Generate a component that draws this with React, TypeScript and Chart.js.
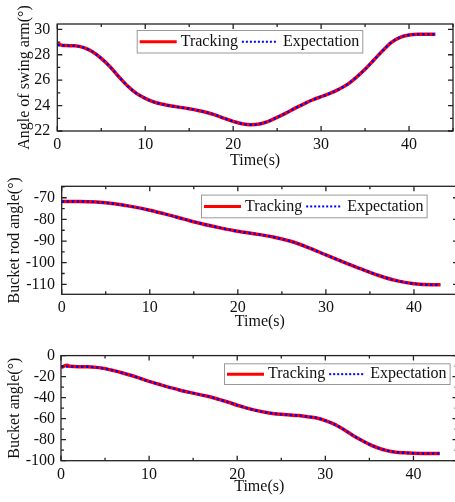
import React, { useEffect, useRef } from 'react';
import { Chart, registerables } from 'chart.js';

Chart.register(...registerables);

const FONT = "'Liberation Serif', 'Times New Roman', serif";

// ---------- Chart 1: swing arm ----------
const swingTime = [0, 0.5, 1, 2, 3, 4, 5, 6, 7, 8, 9, 10, 11, 12, 13, 14, 15, 16, 17, 18, 19, 20, 21, 22, 23, 24, 25, 26, 27, 28, 29, 30, 31, 32, 33, 34, 35, 36, 37, 38, 39, 40, 41, 42, 43];
const swingTracking = [28.9, 28.75, 28.72, 28.7, 28.56, 28.24, 27.72, 27.06, 26.27, 25.54, 24.96, 24.57, 24.28, 24.1, 23.96, 23.86, 23.75, 23.62, 23.46, 23.25, 22.99, 22.76, 22.57, 22.49, 22.55, 22.76, 23.07, 23.41, 23.78, 24.12, 24.44, 24.7, 24.96, 25.28, 25.67, 26.22, 26.85, 27.59, 28.32, 28.98, 29.37, 29.55, 29.61, 29.61, 29.61];
const swingExpectation = [28.75, 28.75, 28.72, 28.7, 28.56, 28.24, 27.72, 27.06, 26.27, 25.54, 24.96, 24.57, 24.28, 24.1, 23.96, 23.86, 23.75, 23.62, 23.46, 23.25, 22.99, 22.76, 22.57, 22.49, 22.55, 22.76, 23.07, 23.41, 23.78, 24.12, 24.44, 24.7, 24.96, 25.28, 25.67, 26.22, 26.85, 27.59, 28.32, 28.98, 29.37, 29.55, 29.61, 29.61, 29.61];
const swingYTicks = [22, 24, 26, 28, 30];
const swingYMinor = [23, 25, 27, 29];

// ---------- Chart 2: bucket rod ----------
const rodTime = [0, 2, 4, 6, 8, 10, 12, 14, 16, 18, 20, 22, 24, 26, 28, 30, 32, 34, 36, 38, 40, 42, 43];
const rodTracking = [-71.7, -71.7, -72, -72.8, -74.1, -75.8, -77.8, -80, -82.1, -83.9, -85.5, -86.7, -88.1, -90.1, -93, -96.4, -99.7, -102.9, -105.9, -108.3, -109.7, -110.2, -110.2];
const rodExpectation = [-71.7, -71.7, -72, -72.8, -74.1, -75.8, -77.8, -80, -82.1, -83.9, -85.5, -86.7, -88.1, -90.1, -93, -96.4, -99.7, -102.9, -105.9, -108.3, -109.7, -110.2, -110.2];
const rodYTicks = [-110, -100, -90, -80, -70];
const rodYMinor = [-105, -95, -85, -75, -65];

// ---------- Chart 3: bucket ----------
const bucketTime = [0, 0.7, 1, 2, 3, 4, 5, 6, 7, 8, 9, 10, 11, 12, 13, 14, 15, 16, 17, 18, 19, 20, 21, 22, 23, 24, 25, 26, 27, 28, 29, 30, 31, 32, 33, 34, 35, 36, 37, 38, 39, 40, 41, 42, 43];
const bucketTracking = [-11.2, -9.3, -10.2, -10.6, -10.6, -11.2, -12.4, -14.3, -16.5, -18.9, -21.7, -24.5, -27, -29.5, -31.7, -33.9, -35.7, -37.6, -39.4, -41.9, -44.4, -47.2, -49.7, -51.9, -53.7, -55, -55.9, -56.5, -57.1, -58.1, -59.3, -61.8, -65.2, -69.9, -75.2, -80.1, -84.5, -87.9, -90.4, -91.9, -92.5, -92.9, -93.1, -93.2, -93.2];
const bucketExpectation = [-10.5, -10.3, -10.3, -10.6, -10.6, -11.2, -12.4, -14.3, -16.5, -18.9, -21.7, -24.5, -27, -29.5, -31.7, -33.9, -35.7, -37.6, -39.4, -41.9, -44.4, -47.2, -49.7, -51.9, -53.7, -55, -55.9, -56.5, -57.1, -58.1, -59.3, -61.8, -65.2, -69.9, -75.2, -80.1, -84.5, -87.9, -90.4, -91.9, -92.5, -92.9, -93.1, -93.2, -93.2];
const bucketYTicks = [-100, -80, -60, -40, -20, 0];
const bucketYMinor = [-90, -70, -50, -30, -10];

// shared x axis
const xTicks = [0, 10, 20, 30, 40];
const xMinor = [5, 15, 25, 35, 45];
const seriesLabels = ['Tracking', 'Expectation'];

const frameTicksPlugin = {
  id: 'frameTicks',
  afterDraw(chart: any, _args: any, opts: any) {
    const { ctx, chartArea } = chart;
    const { left, right, top, bottom } = chartArea;
    const xs = chart.scales.x;
    const ys = chart.scales.y;
    ctx.save();
    ctx.strokeStyle = '#222';
    ctx.lineWidth = 1.3;
    ctx.beginPath();
    const seg = (x1: number, y1: number, x2: number, y2: number) => {
      ctx.moveTo(x1, y1);
      ctx.lineTo(x2, y2);
    };
    const drawX = (v: number, len: number) => {
      const p = xs.getPixelForValue(v);
      seg(p, bottom, p, bottom - len);
      seg(p, top, p, top + len);
    };
    const drawY = (v: number, len: number) => {
      const p = ys.getPixelForValue(v);
      seg(left, p, left + len, p);
      seg(right, p, right - len, p);
    };
    (opts.xMajor || []).forEach((v: number) => drawX(v, 5));
    (opts.xMinor || []).forEach((v: number) => drawX(v, 3));
    (opts.yMajor || []).forEach((v: number) => drawY(v, 5));
    (opts.yMinor || []).forEach((v: number) => drawY(v, 3));
    ctx.stroke();
    ctx.strokeRect(left, top, right - left, bottom - top);
    ctx.restore();
  },
};

const boxLegendPlugin = {
  id: 'boxLegend',
  afterDraw(chart: any, _args: any, opts: any) {
    const { ctx, chartArea } = chart;
    const ds = chart.data.datasets;
    ctx.save();
    ctx.font = `16px ${FONT}`;
    const w0 = ctx.measureText(ds[0].label).width;
    const w1 = ctx.measureText(ds[1].label).width;
    const boxW = 3 + 37 + 4 + w0 + 4 + 35 + 6 + w1 + 3;
    const boxH = opts.height;
    const bx = chartArea.left + opts.dx;
    const by = chartArea.top + opts.dy;
    ctx.fillStyle = '#fff';
    ctx.fillRect(bx, by, boxW, boxH);
    ctx.strokeStyle = '#999';
    ctx.lineWidth = 1;
    ctx.strokeRect(bx + 0.5, by + 0.5, boxW, boxH);
    const cy = by + boxH / 2 + 0.5;
    let x = bx + 3;
    ctx.strokeStyle = ds[0].borderColor;
    ctx.lineWidth = 3;
    ctx.beginPath();
    ctx.moveTo(x, cy);
    ctx.lineTo(x + 37, cy);
    ctx.stroke();
    x += 37 + 4;
    ctx.fillStyle = '#111';
    ctx.textBaseline = 'middle';
    ctx.textAlign = 'left';
    ctx.fillText(ds[0].label, x, cy);
    x += w0 + 4;
    ctx.strokeStyle = ds[1].borderColor;
    ctx.lineWidth = 2;
    ctx.setLineDash([2, 2]);
    ctx.beginPath();
    ctx.moveTo(x, cy);
    ctx.lineTo(x + 35, cy);
    ctx.stroke();
    ctx.setLineDash([]);
    x += 35 + 6;
    ctx.fillText(ds[1].label, x, cy);
    ctx.restore();
  },
};

type Spec = {
  time: number[];
  tracking: number[];
  expectation: number[];
  yTitle: string;
  yMin: number;
  yMax: number;
  yTicks: number[];
  yMinor: number[];
  top: number;
  height: number;
  plotTop: number;
  plotLeft: number;
  plotRight: number;
  plotBottom: number;
  yTitlePad: number;
  yTickPad: number;
  xTickPad: number;
  xTitlePad: number;
  legendDx: number;
  legendDy: number;
  legendH: number;
};

const CANVAS_W = 462;

function makeConfig(s: Spec): any {
  const toPts = (vals: number[]) => s.time.map((t, i) => ({ x: t, y: vals[i] }));
  const tickFont = { family: FONT, size: 16 };
  return {
    type: 'line',
    data: {
      datasets: [
        {
          label: seriesLabels[0],
          data: toPts(s.tracking),
          borderColor: '#ff0000',
          borderWidth: 3.5,
          pointRadius: 0,
          cubicInterpolationMode: 'monotone',
          fill: false,
          order: 2,
        },
        {
          label: seriesLabels[1],
          data: toPts(s.expectation),
          borderColor: '#0000ff',
          borderWidth: 2.4,
          borderDash: [2.5, 2.5],
          pointRadius: 0,
          cubicInterpolationMode: 'monotone',
          fill: false,
          order: 1,
        },
      ],
    },
    options: {
      responsive: false,
      animation: false,
      devicePixelRatio: 1,
      layout: { padding: { top: s.plotTop, left: 0, right: CANVAS_W - s.plotRight, bottom: 0 } },
      plugins: {
        legend: { display: false },
        tooltip: { enabled: false },
        frameTicks: { xMajor: xTicks, xMinor: xMinor, yMajor: s.yTicks, yMinor: s.yMinor },
        boxLegend: { dx: s.legendDx, dy: s.legendDy, height: s.legendH },
      },
      scales: {
        x: {
          type: 'linear',
          position: 'bottom',
          min: 0,
          max: 45,
          grid: { display: false, drawTicks: false, tickLength: 0 },
          border: { display: false },
          ticks: {
            font: tickFont,
            color: '#111',
            padding: s.xTickPad,
            maxRotation: 0,
            autoSkip: false,
            includeBounds: false,
            callback: (v: number) => String(v),
          },
          title: {
            display: true,
            text: 'Time(s)',
            font: { family: FONT, size: 16, lineHeight: 1 },
            color: '#111',
            padding: { top: 0, bottom: s.xTitlePad },
          },
          afterBuildTicks: (axis: any) => {
            axis.ticks = xTicks.map((v) => ({ value: v }));
          },
          afterFit: (axis: any) => {
            axis.height = s.height - s.plotBottom;
          },
        },
        y: {
          type: 'linear',
          position: 'left',
          min: s.yMin,
          max: s.yMax,
          grid: { display: false, drawTicks: false, tickLength: 0 },
          border: { display: false },
          ticks: {
            font: tickFont,
            color: '#111',
            padding: s.yTickPad,
            autoSkip: false,
            includeBounds: false,
            callback: (v: number) => String(v),
          },
          title: {
            display: true,
            text: s.yTitle,
            font: { family: FONT, size: 16, lineHeight: 1 },
            color: '#111',
            padding: { top: s.yTitlePad, bottom: 0 },
          },
          afterBuildTicks: (axis: any) => {
            axis.ticks = s.yTicks.map((v) => ({ value: v }));
          },
          afterFit: (axis: any) => {
            axis.width = s.plotLeft;
          },
        },
      },
    },
    plugins: [frameTicksPlugin, boxLegendPlugin],
  };
}

const specs: Spec[] = [
  {
    time: swingTime,
    tracking: swingTracking,
    expectation: swingExpectation,
    yTitle: 'Angle of swing arm(°)',
    yMin: 22,
    yMax: 30.42,
    yTicks: swingYTicks,
    yMinor: swingYMinor,
    top: 0,
    height: 170,
    plotTop: 24,
    plotLeft: 57.3,
    plotRight: 453,
    plotBottom: 131,
    yTitlePad: 17,
    yTickPad: 7,
    xTickPad: 4,
    xTitlePad: 1,
    legendDx: 79.4,
    legendDy: 6,
    legendH: 22.5,
  },
  {
    time: rodTime,
    tracking: rodTracking,
    expectation: rodExpectation,
    yTitle: 'Bucket rod angle(°)',
    yMin: -114.6,
    yMax: -64.7,
    yTicks: rodYTicks,
    yMinor: rodYMinor,
    top: 170,
    height: 170,
    plotTop: 15.7,
    plotLeft: 61.7,
    plotRight: 458,
    plotBottom: 124.3,
    yTitlePad: 7,
    yTickPad: 6.7,
    xTickPad: 4,
    xTitlePad: 10,
    legendDx: 139.3,
    legendDy: 8.3,
    legendH: 22.7,
  },
  {
    time: bucketTime,
    tracking: bucketTracking,
    expectation: bucketExpectation,
    yTitle: 'Bucket angle(°)',
    yMin: -100,
    yMax: 0,
    yTicks: bucketYTicks,
    yMinor: bucketYMinor,
    top: 340,
    height: 162,
    plotTop: 13.3,
    plotLeft: 61,
    plotRight: 457.5,
    plotBottom: 120.7,
    yTitlePad: 6.5,
    yTickPad: 6,
    xTickPad: 4,
    xTitlePad: 7,
    legendDx: 163,
    legendDy: 7.7,
    legendH: 20.7,
  },
];

function Panel({ spec }: { spec: Spec }) {
  const ref = useRef<HTMLCanvasElement | null>(null);
  useEffect(() => {
    if (!ref.current) return;
    const chart = new Chart(ref.current, makeConfig(spec));
    return () => chart.destroy();
  }, [spec]);
  return (
    <canvas
      ref={ref}
      width={CANVAS_W}
      height={spec.height}
      style={{ position: 'absolute', left: 0, top: spec.top, width: CANVAS_W, height: spec.height }}
    />
  );
}

export default function App() {
  return (
    <div
      style={{
        position: 'fixed',
        left: 0,
        top: 0,
        width: 455,
        height: 502,
        overflow: 'hidden',
        background: '#fff',
      }}
    >
      {specs.map((s, i) => (
        <Panel key={i} spec={s} />
      ))}
    </div>
  );
}
